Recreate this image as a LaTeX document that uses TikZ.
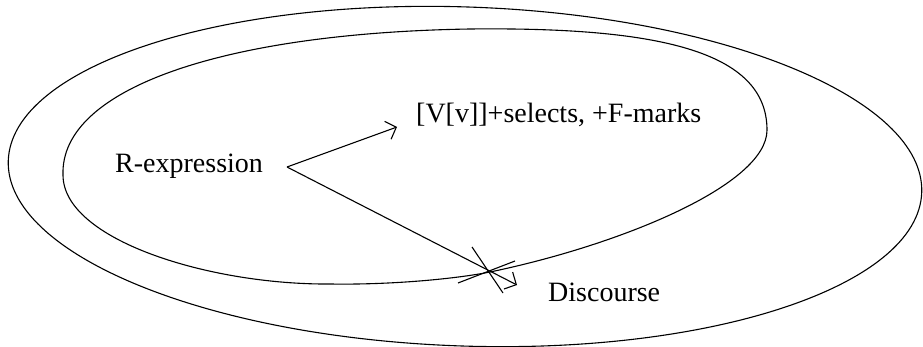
\documentclass[tikz,border=0pt]{standalone}
\usepackage{fontspec}
\setmainfont{Liberation Serif}
\usetikzlibrary{arrows.meta}

\begin{document}
\begin{tikzpicture}[
  x=1pt, y=-1pt,
  lbl/.style={font=\fontsize{28}{34}\selectfont,
    inner sep=0pt, anchor=base west},
  ring/.style={line width=1.1pt},
  arr/.style={-{Straight Barb[length=9pt,width=19pt]},
    line width=1.1pt},
  cut/.style={line width=1.1pt}
]
  \useasboundingbox (0,0) rectangle (923,347);

  % outer domain
  \draw[ring, rotate around={-2:(465,176.5)}]
    (465,176.5) ellipse [x radius=457, y radius=169.5];

  % inner domain
  \draw[ring] (63,175)
    .. controls (60,88) and (225,33) .. (470,29)
    .. controls (655,27) and (767,50) .. (767,130)
    .. controls (767,185) and (620,245) .. (490,272)
    .. controls (455,279) and (390,285) .. (330,284)
    .. controls (210,285) and (63,240) .. cycle;

  \node[lbl] (rexp) at (115,173) {R-expression};
  \node[lbl] (feat) at (416,123) {[V[v]]+selects, +F-marks};
  \node[lbl] (disc) at (548,301) {Discourse};

  \coordinate (fork) at (287,167);
  \coordinate (tipF) at (397,127);
  \coordinate (tipD) at (517,285);

  \draw[arr] (fork) -- (tipF);
  \draw[arr] (fork) -- (tipD);

  % crossing marks
  \draw[cut] (458,283) -- (515,261);
  \draw[cut] (472,247) -- (503,293);
\end{tikzpicture}
\end{document}
